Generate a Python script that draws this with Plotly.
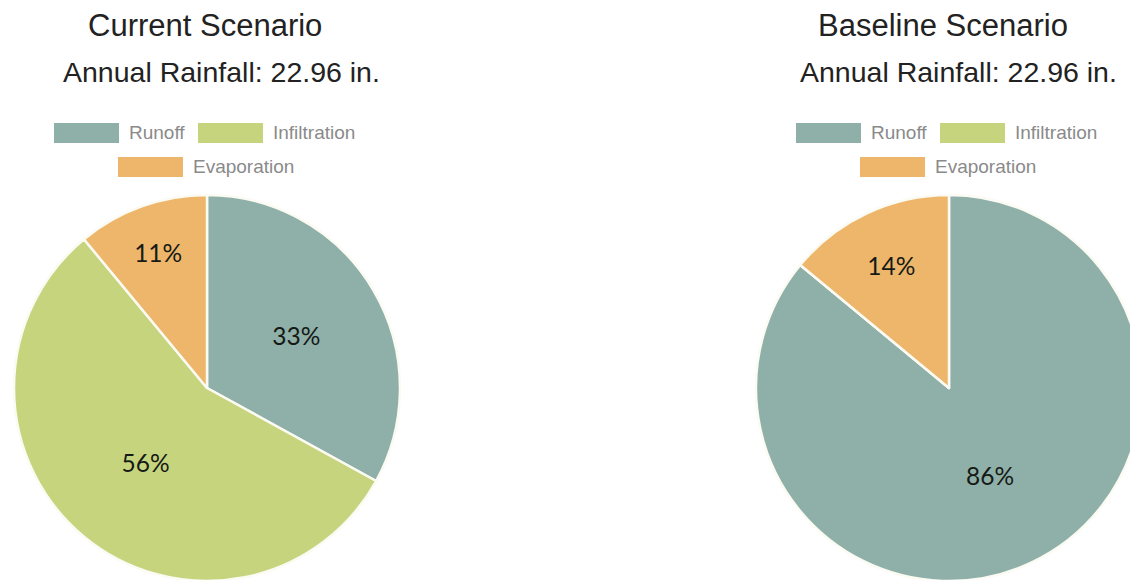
import plotly.graph_objects as go

categories = ["Runoff", "Infiltration", "Evaporation"]
current_values = [33, 56, 11]
baseline_values = [86, 0, 14]
scenario_titles = ["Current Scenario", "Baseline Scenario"]
subtitle = "Annual Rainfall: 22.96 in."
colors = ["#8fb0a9", "#c7d47e", "#edb66a"]

W, H = 1138, 580
OFF = 8  # page body margin compensation

def px(x):
    return (x - OFF) / W

def py(y):
    return 1 - (y - OFF) / H

R = 193
centers = [207, 949]
cy = 388
domains = [
    dict(x=[px(c - R), px(c + R)], y=[py(cy + R), py(cy - R)]) for c in centers
]
title_x = [205, 943]
sub_x = [221, 958]

fig = go.Figure()
for vals, dom in zip([current_values, baseline_values], domains):
    fig.add_trace(go.Pie(
        labels=categories,
        values=vals,
        domain=dom,
        sort=False,
        direction="clockwise",
        rotation=0,
        marker=dict(colors=colors, line=dict(color="#fbfbf3", width=2.5)),
        texttemplate="%{percent:.0%}",
        textposition="inside",
        insidetextorientation="horizontal",
        textfont=dict(family="Lato", size=24.5, color="#161a16"),
        hoverinfo="label+percent",
        showlegend=False,
    ))

annotations = []
shapes = []
# legend layout offsets relative to pie center: (row y, swatch start offset)
legend_spec = [(133, -153), (133, -9), (167, -89)]
for i, c in enumerate(centers):
    annotations.append(dict(text=scenario_titles[i], x=px(title_x[i]), y=py(26),
                            xref="paper", yref="paper", showarrow=False,
                            xanchor="center", yanchor="middle",
                            font=dict(family="Liberation Sans", size=31, color="#222222")))
    annotations.append(dict(text=subtitle, x=px(sub_x[i]), y=py(72),
                            xref="paper", yref="paper", showarrow=False,
                            xanchor="center", yanchor="middle",
                            font=dict(family="Liberation Sans", size=28.5, color="#222222")))
    for (ry, off), cat, col in zip(legend_spec, categories, colors):
        x0 = c + off
        shapes.append(dict(type="rect", xref="paper", yref="paper",
                           x0=px(x0), x1=px(x0 + 65), y0=py(ry + 10), y1=py(ry - 10),
                           fillcolor=col, line=dict(width=0)))
        annotations.append(dict(text=cat, x=px(x0 + 73), y=py(ry),
                                xref="paper", yref="paper", showarrow=False,
                                xanchor="left", yanchor="middle",
                                font=dict(family="Liberation Sans", size=19, color="#8a8a8a")))

fig.update_layout(
    width=W, height=H,
    margin=dict(l=0, r=0, t=0, b=0),
    paper_bgcolor="white",
    plot_bgcolor="white",
    annotations=annotations,
    shapes=shapes,
)

fig.write_html("out.html")
